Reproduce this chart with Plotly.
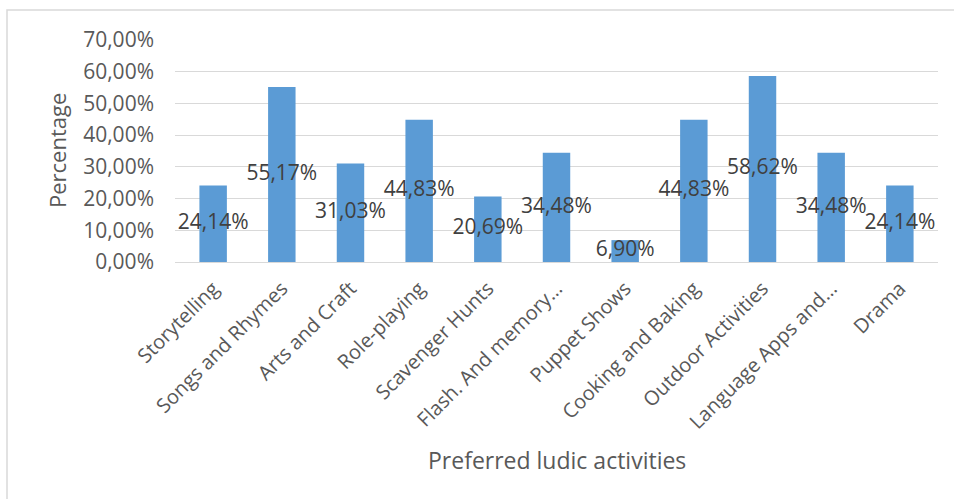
import plotly.graph_objects as go

# Preferred ludic activities and share of respondents (%)
activities = [
    "Storytelling", "Songs and Rhymes", "Arts and Craft", "Role-playing",
    "Scavenger Hunts", "Flash. And memory…", "Puppet Shows",
    "Cooking and Baking", "Outdoor Activities", "Language Apps and…", "Drama",
]
percentages = [24.14, 55.17, 31.03, 44.83, 20.69, 34.48, 6.90, 44.83, 58.62, 34.48, 24.14]

y_ticks = [0, 10, 20, 30, 40, 50, 60, 70]

W, H = 954, 499
L, R, T, B = 175, 16, 40, 237
FONT = "Open Sans"

values = [p / 100 for p in percentages]
labels = [f"{p:.2f}".replace(".", ",") + "%" for p in percentages]

fig = go.Figure()
fig.add_trace(go.Bar(
    x=activities, y=values, width=0.4,
    marker=dict(color="#5B9BD5", line=dict(width=0)),
    hoverinfo="skip",
))
# value labels centred on each bar
fig.add_trace(go.Scatter(
    x=activities, y=[v / 2 for v in values], mode="text", text=labels,
    textposition="middle center",
    textfont=dict(family=FONT, size=21, color="#404040"),
    hoverinfo="skip", cliponaxis=False,
))

pw = W - L - R
ph = H - T - B

def px_x(x):
    return (x - L) / pw

def px_y(y):
    return (H - B - y) / ph

fig.update_layout(
    width=W, height=H,
    margin=dict(l=L, r=R, t=T, b=B),
    paper_bgcolor="white", plot_bgcolor="white",
    showlegend=False,
    separators=", ",
    bargap=0.6,
    xaxis=dict(
        tickangle=-45, showgrid=False, showline=False, ticks="",
        tickfont=dict(family=FONT, size=20, color="#595959"),
        zeroline=False, ticklabelstandoff=10,
    ),
    yaxis=dict(
        range=[0, 0.70], tickvals=[t / 100 for t in y_ticks], tickformat=".2%",
        showgrid=True, gridcolor="#D9D9D9", gridwidth=1.3,
        zeroline=True, zerolinecolor="#D9D9D9", zerolinewidth=1.3,
        showline=False, ticks="", ticklen=0, ticklabelstandoff=20,
        tickfont=dict(family=FONT, size=21, color="#595959"),
    ),
    annotations=[
        dict(text="Percentage", xref="paper", yref="paper",
             x=px_x(57), y=px_y(150), textangle=-90, showarrow=False,
             xanchor="center", yanchor="middle",
             font=dict(family=FONT, size=22, color="#595959")),
        dict(text="Preferred ludic activities", xref="paper", yref="paper",
             x=px_x(557), y=px_y(460), showarrow=False,
             xanchor="center", yanchor="middle",
             font=dict(family=FONT, size=23, color="#595959")),
    ],
    shapes=[
        dict(type="rect", xref="paper", yref="paper",
             x0=px_x(7), y0=px_y(10), x1=px_x(W + 20), y1=px_y(H + 20),
             line=dict(color="#D9D9D9", width=1.5), layer="below"),
    ],
)

fig.write_html("out.html")
